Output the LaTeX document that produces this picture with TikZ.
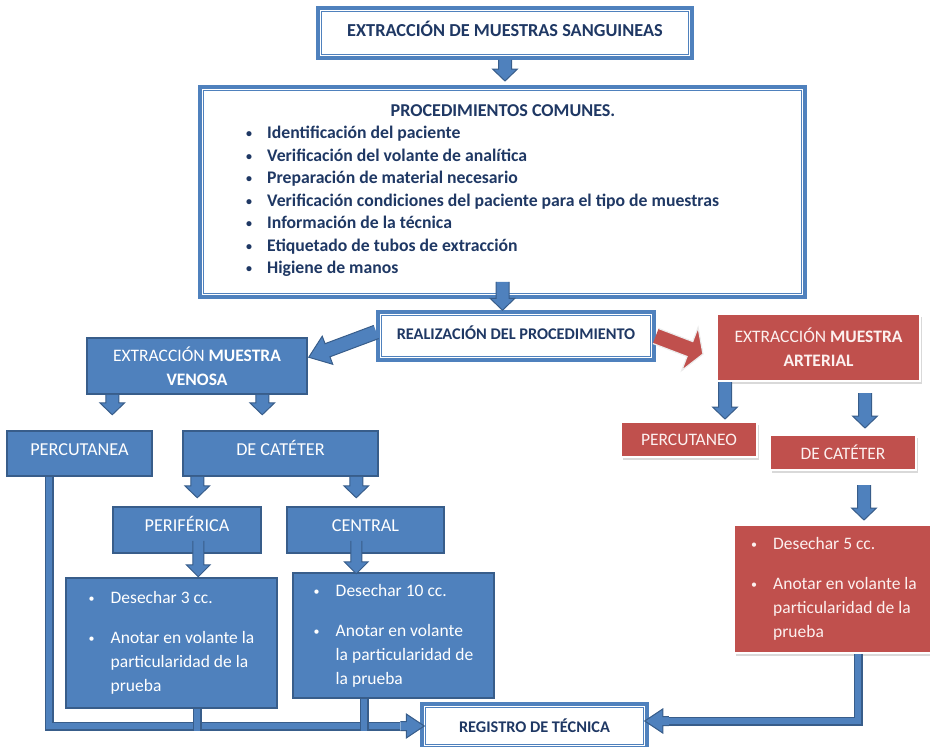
\documentclass[tikz,border=0pt]{standalone}
\usepackage{fontspec}
\setmainfont{Carlito}
\usetikzlibrary{calc}
\usetikzlibrary{shadows}
\definecolor{boxblue}{RGB}{79,129,189}
\definecolor{edgeblue}{RGB}{56,93,138}
\definecolor{boxred}{RGB}{192,80,77}
\definecolor{navy}{RGB}{31,56,100}
\definecolor{rosy}{RGB}{252,240,239}

% block arrow: [style]{from}{to}{shaft width}{head width}{head length}
\newcommand{\blockarrow}[6][barrow]{%
  \path[#1] let \p1=($#3-#2$), \n1={atan2(\y1,\x1)}, \n2={veclen(\x1,\y1)} in
    ($#2+(\n1+90:0.5*#4)$) -- ($#2+(\n1:\n2-#6)+(\n1+90:0.5*#4)$)
    -- ($#2+(\n1:\n2-#6)+(\n1+90:0.5*#5)$) -- #3
    -- ($#2+(\n1:\n2-#6)+(\n1-90:0.5*#5)$) -- ($#2+(\n1:\n2-#6)+(\n1-90:0.5*#4)$)
    -- ($#2+(\n1-90:0.5*#4)$);}
\newcommand{\bul}{\raisebox{1pt}{\fontsize{12}{12}\selectfont\textbullet}}
\newcommand{\bitem}{\makebox[22pt][l]{\bul}}
\newcommand{\bcont}{\hspace*{22pt}}

\begin{document}
\begin{tikzpicture}[x=1pt,y=-1pt,
  every node/.style={font=\fontsize{17.5}{24}\selectfont},
  dbox/.style={draw=boxblue, line width=3.5pt, fill=white, text=navy,
    font=\bfseries\fontsize{18.3}{24}\selectfont},
  bluebox/.style={draw=edgeblue, fill=boxblue, line width=1.5pt, text=white},
  boxlabel/.style={font=\fontsize{18.2}{24}\selectfont, text height=12pt, text depth=9pt},
  redbox/.style={draw=white, fill=boxred, line width=2pt, text=rosy,
    drop shadow={shadow xshift=2pt, shadow yshift=-2.5pt, fill=black, opacity=0.15}},
  listitem/.style={anchor=base west, inner sep=0pt, text=navy,
    font=\bfseries\fontsize{17.7}{21}\selectfont},
  barrow/.style={fill=boxblue, draw=edgeblue, line width=1pt},
  rarrow/.style={fill=boxred, draw=white!85!gray, line width=1.2pt},
  pipe/.style={draw=edgeblue, line width=1.5pt, double=boxblue, double distance=6pt}]
  \useasboundingbox (0,0) rectangle (930,747);

  % top boxes
  \node[dbox, text height=13pt, text depth=6pt, minimum width=374pt, minimum height=50pt] (title) at (505,33) {EXTRACCIÓN DE MUESTRAS SANGUINEAS};
  \node[dbox, minimum width=605pt, minimum height=210pt] (proc) at (502.5,192) {};
  \node[text=navy, anchor=base, inner sep=0pt, font=\bfseries\fontsize{18.1}{21}\selectfont] (prochead) at (503,116) {PROCEDIMIENTOS COMUNES.};
  \foreach \t [count=\i] in {Identificación del paciente, Verificación del volante de analítica,
      Preparación de material necesario, Verificación condiciones del paciente para el tipo de muestras,
      Información de la técnica, Etiquetado de tubos de extracción, Higiene de manos}
    \node[listitem] (item\i) at (267,{116+22.5*\i}) {\llap{\bul\hspace{15pt}}\t};
  \node[dbox, font=\bfseries\fontsize{16.3}{20}\selectfont, text height=12pt, text depth=6pt, minimum width=276pt, minimum height=48pt] (real) at (516,336) {REALIZACIÓN DEL PROCEDIMIENTO};

  % venous branch
  \node[bluebox, minimum width=220pt, minimum height=56pt, align=center] (venosa) at (197,366) {EXTRACCIÓN \textbf{MUESTRA}\\\textbf{VENOSA}};
  \node[bluebox, boxlabel, minimum width=145pt, minimum height=45pt] (vperc) at (79.5,453.5) {PERCUTANEA};
  \node[bluebox, boxlabel, minimum width=195pt, minimum height=45pt] (vcat) at (280.5,453.5) {DE CATÉTER};
  \node[bluebox, boxlabel, minimum width=148pt, minimum height=46pt] (perif) at (187,530) {PERIFÉRICA};
  \node[bluebox, boxlabel, minimum width=157pt, minimum height=46pt] (central) at (365.5,530) {CENTRAL};
  \node[bluebox, minimum width=211pt, minimum height=130pt, align=left] (perinfo) at (171.5,643)
    {\bitem Desechar 3 cc.\\[16pt]\bitem Anotar en volante la\\\bcont particularidad de la\\\bcont prueba};
  \node[bluebox, minimum width=201pt, minimum height=125pt, align=left] (cenfo) at (393.5,635.5)
    {\bitem Desechar 10 cc.\\[16pt]\bitem Anotar en volante\\\bcont la particularidad de\\\bcont la prueba};

  % arterial branch
  \node[redbox, minimum width=203pt, minimum height=67pt, align=center] (arter) at (818.5,347.5) {EXTRACCIÓN \textbf{MUESTRA}\\\textbf{ARTERIAL}};
  \node[redbox, minimum width=136pt, minimum height=35pt] (aperc) at (689,439.5) {PERCUTANEO};
  \node[redbox, minimum width=146pt, minimum height=35pt] (acat) at (843,452.5) {DE CATÉTER};
  \node[redbox, minimum width=200pt, minimum height=128pt, align=left] (arinfo) at (834,589)
    {\bitem Desechar 5 cc.\\[16pt]\bitem Anotar en volante la\\\bcont particularidad de la\\\bcont prueba};

  \node[dbox, font=\bfseries\fontsize{16.3}{20}\selectfont, minimum width=225pt, minimum height=44pt] (reg) at (534.5,726) {REGISTRO DE TÉCNICA};

  % inner frame of the white boxes
  \foreach \b in {title,proc,real,reg}
    \draw[boxblue, line width=1pt] ($(\b.south west)+(5.5pt,5.5pt)$) rectangle ($(\b.north east)+(-5.5pt,-5.5pt)$);

  % arrow ends
  \coordinate (t1) at (505,81);
  \path (proc.south) ++(0,-17) coordinate (p1);
  \path (real.west) ++(0,-4) coordinate (r1) (venosa.north east) ++(1,20) coordinate (r1t);
  \path (arter.west) ++(-13,6.5) coordinate (r2t);
  \path (venosa.south west) ++(26,0) coordinate (v1) ++(0,20) coordinate (v1t);
  \path (venosa.south west) ++(176,0) coordinate (v2) ++(0,20) coordinate (v2t);
  \path (vcat.south west) ++(15,0) coordinate (c1) ++(0,21) coordinate (c1t);
  \path (vcat.south west) ++(174,0) coordinate (c2) ++(0,21) coordinate (c2t);
  \path (perif.south west) ++(86,-13) coordinate (f1) ++(0,36) coordinate (f1t);
  \path (central.south west) ++(70,-13) coordinate (n1) ++(0,33) coordinate (n1t);
  \path (arter.south west) ++(9,0) coordinate (a1) ++(0,37) coordinate (a1t);
  \path (arter.south west) ++(149,11) coordinate (a2) ++(0,35) coordinate (a2t);
  \path (acat.south west) ++(95,14) coordinate (k1) ++(0,35) coordinate (k1t);
  \path (reg.west) ++(-20,0) coordinate (h1) ++(24,0) coordinate (h1t);
  \path (reg.east) ++(20,-5) coordinate (h2) ++(-24,0) coordinate (h2t);

  % connectors between boxes
  \blockarrow{(title.south)}{(t1)}{13pt}{25pt}{12pt}
  \blockarrow{(p1)}{(proc.south |- real.north)}{13pt}{25pt}{12pt}
  \blockarrow{(r1)}{(r1t)}{14pt}{30pt}{20pt}
  \blockarrow[rarrow]{(real.east)}{(r2t)}{16pt}{46pt}{14pt}
  \blockarrow{(v1)}{(v1t)}{13pt}{25pt}{12pt}
  \blockarrow{(v2)}{(v2t)}{13pt}{25pt}{12pt}
  \blockarrow{(c1)}{(c1t)}{13pt}{25pt}{12pt}
  \blockarrow{(c2)}{(c2t)}{13pt}{25pt}{12pt}
  \blockarrow{(f1)}{(f1t)}{11pt}{24pt}{12pt}
  \blockarrow{(n1)}{(n1t)}{11pt}{24pt}{12pt}
  \blockarrow{(a1)}{(a1t)}{13pt}{25pt}{12pt}
  \blockarrow{(a2)}{(a2t)}{13pt}{25pt}{12pt}
  \blockarrow{(k1)}{(k1t)}{13pt}{25pt}{12pt}

  % connectors to registro
  \draw[pipe] ($(vperc.south west)+(43,0)$) |- (h1);
  \blockarrow{(h1)}{(h1t)}{9pt}{24pt}{18pt}
  \draw[pipe] ($(perinfo.south west)+(132,0)$) -- ++(0,22.5);
  \draw[pipe] ($(cenfo.south west)+(72,0)$) -- ++(0,32.5);
  \draw[pipe] ($(aperc.south west)+(61,0)$) -- ($(aperc.south west)+(61,0)$ |- h2);
  \draw[pipe] ($(arinfo.south west)+(125,0)$) |- (h2);
  \blockarrow{(h2)}{(h2t)}{9pt}{24pt}{18pt}
\end{tikzpicture}
\end{document}
